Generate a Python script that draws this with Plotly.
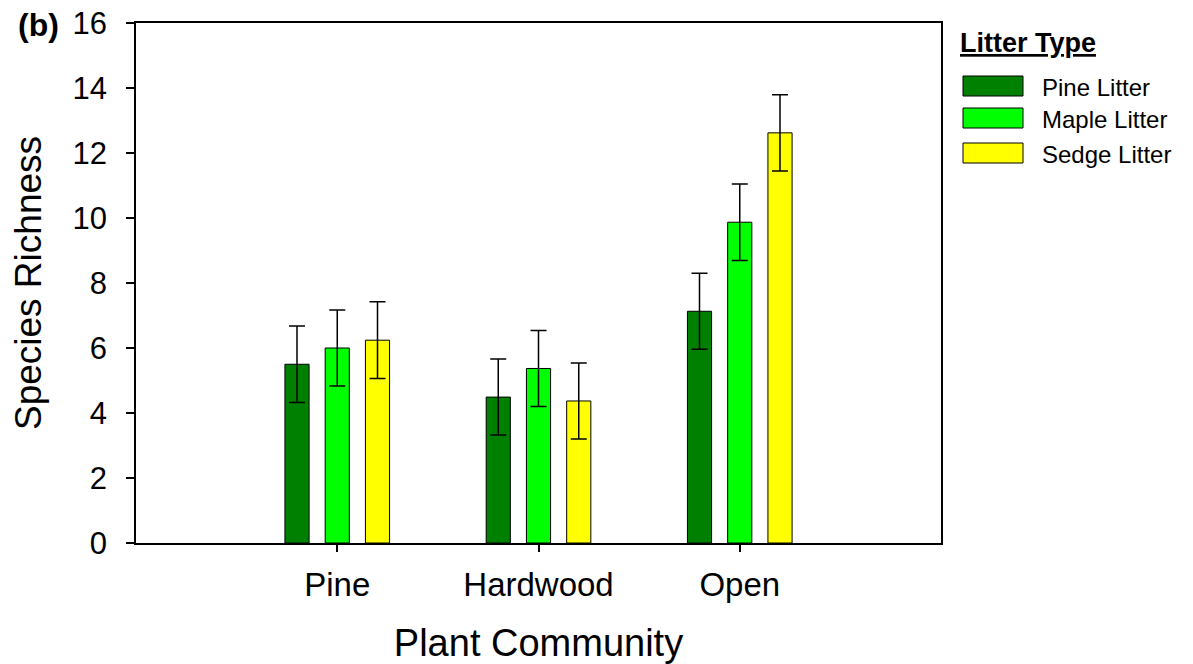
import plotly.graph_objects as go

# Plant community groups and litter treatments
communities = ["Pine", "Hardwood", "Open"]
community_pos = [1, 2, 3]
litter_types = ["Pine Litter", "Maple Litter", "Sedge Litter"]

# Mean species richness per litter type (ordered Pine, Hardwood, Open)
pine_litter = [5.50, 4.49, 7.13]
maple_litter = [6.00, 5.37, 9.87]
sedge_litter = [6.24, 4.37, 12.62]

# Standard errors
pine_litter_se = [1.18, 1.17, 1.17]
maple_litter_se = [1.17, 1.17, 1.18]
sedge_litter_se = [1.18, 1.17, 1.17]

colors = ["#008000", "#00FF00", "#FFFF00"]
offsets = [-0.26, -0.06, 0.14]
bar_width = 0.12

FONT = "Liberation Sans, Arial, sans-serif"

fig = go.Figure()
series = [pine_litter, maple_litter, sedge_litter]
errors = [pine_litter_se, maple_litter_se, sedge_litter_se]
for name, vals, err, col, off in zip(litter_types, series, errors, colors, offsets):
    fig.add_trace(go.Bar(
        x=community_pos, y=vals, name=name,
        width=bar_width, offset=off,
        marker=dict(color=col, line=dict(color="black", width=1)),
        error_y=dict(type="data", array=err, color="black", thickness=1.5, width=8),
        showlegend=False,
    ))

# Plot-area geometry used to place the hand-built legend (pixels)
L, R, T, B = 136, 941, 23, 543


def px(x):
    return (x - L) / (R - L)


def py(y):
    return (B - y) / (B - T)


shapes = []
annotations = []
annotations.append(dict(
    x=px(958), y=py(43), xref="paper", yref="paper", xanchor="left", yanchor="middle",
    text="<b><u>Litter Type</u></b>", showarrow=False,
    font=dict(family=FONT, size=27, color="black"),
))
row_y = [86, 118, 153]
for name, col, ry in zip(litter_types, colors, row_y):
    shapes.append(dict(
        type="rect", xref="paper", yref="paper",
        x0=px(963), x1=px(1023), y0=py(ry - 10), y1=py(ry + 10),
        fillcolor=col, line=dict(color="black", width=1),
    ))
    annotations.append(dict(
        x=px(1040), y=py(ry + 1), xref="paper", yref="paper", xanchor="left", yanchor="middle",
        text=name, showarrow=False,
        font=dict(family=FONT, size=24, color="black"),
    ))

# Panel label
annotations.append(dict(
    x=px(16), y=py(25), xref="paper", yref="paper", xanchor="left", yanchor="middle",
    text="<b>(b)</b>", showarrow=False,
    font=dict(family=FONT, size=32, color="black"),
))

fig.update_layout(
    width=1193, height=664,
    margin=dict(l=L, r=1193 - R, t=T, b=664 - B, autoexpand=False),
    paper_bgcolor="white", plot_bgcolor="white",
    font=dict(family=FONT, color="black"),
    barmode="overlay",
    shapes=shapes,
    annotations=annotations,
    xaxis=dict(
        range=[0, 4], tickvals=community_pos, ticktext=communities,
        ticks="outside", ticklen=7, tickwidth=1.5, tickcolor="black",
        ticklabelstandoff=5,
        showline=True, linecolor="black", linewidth=1.5, mirror=True,
        showgrid=False, zeroline=False, automargin=False,
        tickfont=dict(family=FONT, size=33),
        title=dict(text="Plant Community", font=dict(family=FONT, size=38), standoff=30),
    ),
    yaxis=dict(
        range=[0, 16], tickvals=list(range(0, 17, 2)),
        ticks="outside", ticklen=8, tickwidth=1.5, tickcolor="black",
        ticklabelstandoff=13,
        showline=True, linecolor="black", linewidth=1.5, mirror=True,
        showgrid=False, zeroline=False, automargin=False,
        tickfont=dict(family=FONT, size=31),
        title=dict(text="Species Richness", font=dict(family=FONT, size=37), standoff=20),
    ),
)

fig.write_html("out.html")
